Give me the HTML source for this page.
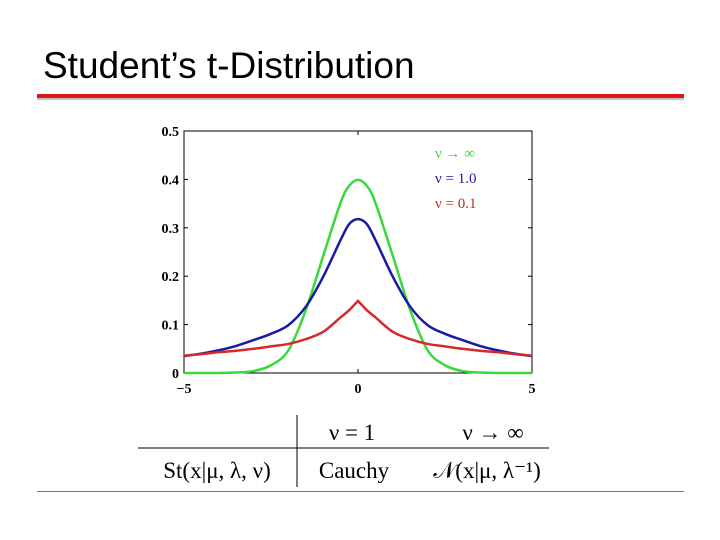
<!DOCTYPE html>
<html><head><meta charset="utf-8"><style>
body{margin:0;background:#fff;}
#wrap{position:relative;width:720px;height:540px;overflow:hidden;background:#fff;font-family:"Liberation Sans",sans-serif;}
</style></head><body>
<div id="wrap">
<div style="position:absolute;left:43px;top:47px;font-size:37px;line-height:1;color:#000;">Student’s t-Distribution</div>
<div style="position:absolute;left:37px;top:94px;width:647px;height:4px;background:#e0161c;box-shadow:0 2px 1px #bbb;"></div>
<div style="position:absolute;left:37px;top:491px;width:647px;height:1px;background:#777;"></div>
<svg id="chart" width="720" height="540" style="position:absolute;left:0;top:0" font-family="Liberation Serif, serif"></svg>
</div>
<script>
const xs=[-5,-4.5,-4,-3.5,-3,-2.5,-2,-1.5,-1,-0.5,-0.25,0,0.25,0.5,1,1.5,2,2.5,3,3.5,4,4.5,5];
const greenVals=[0,0,0,0.001,0.004,0.016,0.047,0.13,0.242,0.352,0.387,0.399,0.387,0.352,0.242,0.13,0.047,0.016,0.004,0.001,0,0,0];
const blueVals=[0.035,0.04,0.047,0.056,0.068,0.081,0.099,0.137,0.199,0.275,0.308,0.318,0.308,0.275,0.199,0.137,0.099,0.081,0.068,0.056,0.047,0.04,0.035];
const redVals=[0.036,0.039,0.043,0.046,0.05,0.055,0.06,0.07,0.085,0.115,0.13,0.149,0.13,0.115,0.085,0.07,0.06,0.055,0.05,0.046,0.043,0.039,0.036];
const yTicks=[0,0.1,0.2,0.3,0.4,0.5];
const yTickLabels=["0","0.1","0.2","0.3","0.4","0.5"];
const xTicks=[-5,0,5];
const xTickLabels=["\u22125","0","5"];
const L=184,R=532,T=131,B=373;
const sx=v=>L+(v+5)/10*(R-L);
const sy=v=>B-v/0.5*(B-T);
const svg=document.getElementById('chart');
const NS='http://www.w3.org/2000/svg';
function mk(t,a){const e=document.createElementNS(NS,t);for(const k in a)e.setAttribute(k,a[k]);svg.appendChild(e);return e;}
const frame=mk('rect',{x:L,y:T,width:R-L,height:B-T,fill:'none',stroke:'#000','stroke-width':1});


yTicks.forEach((v,i)=>{
 const t1=mk('line',{x1:L,x2:L+4,y1:sy(v),y2:sy(v),stroke:'#000'});
 
 
 const t2=mk('line',{x1:R,x2:R-4,y1:sy(v),y2:sy(v),stroke:'#000'});
 
 
 const tx=mk('text',{x:L-5,y:sy(v)+5,'text-anchor':'end','font-size':14,'font-weight':'bold'});
 tx.textContent=yTickLabels[i];
 
 
});
xTicks.forEach((v,i)=>{
 const t1=mk('line',{x1:sx(v),x2:sx(v),y1:B,y2:B-4,stroke:'#000'});
 
 
 const t2=mk('line',{x1:sx(v),x2:sx(v),y1:T,y2:T+4,stroke:'#000'});
 
 
 const tx=mk('text',{x:sx(v),y:B+20,'text-anchor':'middle','font-size':14,'font-weight':'bold'});
 tx.textContent=xTickLabels[i];
 
 
});
function pathFor(vals,sharp){
 const p=xs.map((x,i)=>[sx(x),sy(vals[i])]);
 let d='M'+p[0][0]+','+p[0][1];
 for(let i=0;i<p.length-1;i++){
  const p0=p[Math.max(i-1,0)],p1=p[i],p2=p[i+1],p3=p[Math.min(i+2,p.length-1)];
  if(sharp&&(xs[i]===0||xs[i+1]===0)){d+=' L'+p2[0]+','+p2[1];continue;}
  const c1=[p1[0]+(p2[0]-p0[0])/6,p1[1]+(p2[1]-p0[1])/6];
  const c2=[p2[0]-(p3[0]-p1[0])/6,p2[1]-(p3[1]-p1[1])/6];
  d+=' C'+c1[0]+','+c1[1]+' '+c2[0]+','+c2[1]+' '+p2[0]+','+p2[1];
 }
 return d;
}
const g=mk('path',{d:pathFor(greenVals,false),fill:'none',stroke:'#3ad83a','stroke-width':2.5});


const b=mk('path',{d:pathFor(blueVals,false),fill:'none',stroke:'#1a1aa0','stroke-width':2.5});


const r=mk('path',{d:pathFor(redVals,true),fill:'none',stroke:'#d42a2a','stroke-width':2.5});


const leg=[["\u03BD \u2192 \u221E",'#3ad83a',158],["\u03BD = 1.0",'#1a1aa0',183],["\u03BD = 0.1",'#c02a2a',208]];
leg.forEach(l=>{
 const t=mk('text',{x:435,y:l[2],'font-size':15,fill:l[1]});
 t.textContent=l[0];
 
 
});
const vl=mk('line',{x1:297,x2:297,y1:415,y2:487,stroke:'#000'});


const hl=mk('line',{x1:138,x2:549,y1:448,y2:448,stroke:'#000'});


const cells=[["\u03BD = 1",352,440,'middle'],["\u03BD \u2192 \u221E",493,440,'middle'],["St(x|\u03BC, \u03BB, \u03BD)",217,478,'middle'],["Cauchy",354,478,'middle'],["\uD835\uDCA9(x|\u03BC, \u03BB\u207B\u00B9)",487,478,'middle']];
cells.forEach(c=>{
 const t=mk('text',{x:c[1],y:c[2],'text-anchor':c[3],'font-size':23});
 t.textContent=c[0];
 
 
});
</script>
</body></html>
